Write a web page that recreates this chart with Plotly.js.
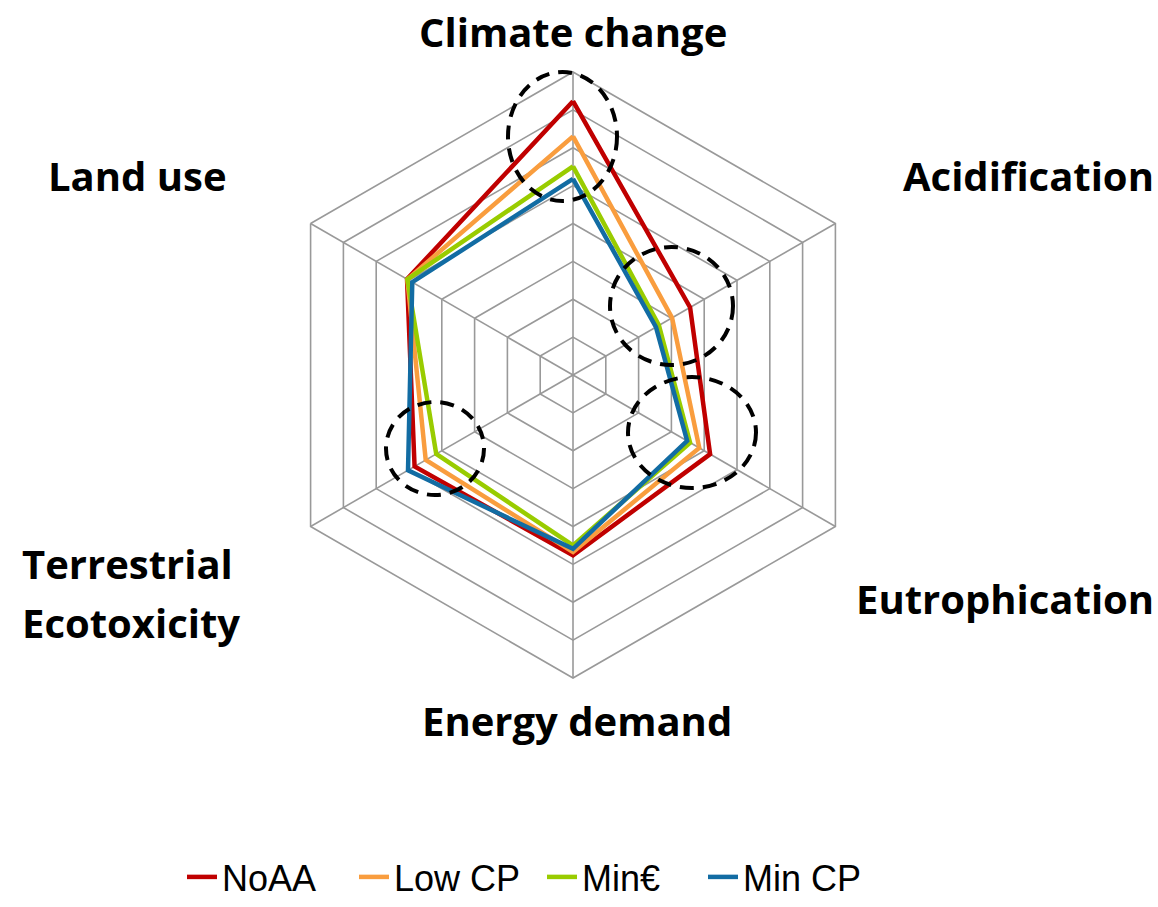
<!DOCTYPE html>
<html>
<head>
<meta charset="utf-8">
<script src="https://cdn.plot.ly/plotly-3.0.1.min.js"></script>
<style>html,body{margin:0;padding:0;background:#fff;}#chart{width:1158px;height:907px;}</style>
</head>
<body>
<div id="chart"></div>
<script>
// Impact categories (clockwise from top)
const categories = ['Climate change', 'Acidification', 'Eutrophication', 'Energy demand', 'Terrestrial Ecotoxicity', 'Land use'];
// Label text as shown around the chart
const categoryLabels = ['Climate change', 'Acidification', 'Eutrophication', 'Energy demand', 'Terrestrial<br>Ecotoxicity', 'Land use'];

// Series values (read in grid-ring units, 0-8)
const seriesNames = ['NoAA', 'Low CP', 'Min€', 'Min CP'];
const noAA  = [7.23, 3.57, 4.18, 4.76, 4.83, 5.06];
const lowCP = [6.30, 3.02, 3.85, 4.67, 4.49, 5.05];
const minEu = [5.51, 2.62, 3.57, 4.50, 4.17, 5.05];
const minCP = [5.18, 2.53, 3.48, 4.59, 5.03, 4.90];

const W = 1158, H = 907;
const colors = ['#C00000', '#F99D3E', '#99CC00', '#126CA3'];
const seriesVals = [noAA, lowCP, minEu, minCP];
const legendIds = ['legend', 'legend2', 'legend3', 'legend4'];
const legendX = [182, 354, 542, 703]; // pixel left of each legend entry (style)

const traces = seriesVals.map((vals, i) => ({
  type: 'scatterpolar',
  mode: 'lines',
  name: seriesNames[i],
  legend: legendIds[i],
  r: vals.concat([vals[0]]),
  theta: categories.concat([categories[0]]),
  line: {color: colors[i], width: 4.5},
  hoverinfo: 'skip'
}));

// label placement (pixel centres), style only
const labelPos = [
  [573, 31, 'center'],
  [1028, 175, 'center'],
  [1005, 598, 'center'],
  [577, 720, 'center'],
  [20, 563, 'left'],
  [137, 175, 'center']
];
const lineGap = 59;
const annotations = [];
categoryLabels.forEach((lab, i) => {
  const lines = lab.split('<br>');
  lines.forEach((ln, j) => {
    const [px, py, al] = labelPos[i];
    annotations.push({
      xref: 'paper', yref: 'paper',
      x: px / W, y: 1 - (py + j * lineGap) / H,
      xanchor: al, yanchor: 'middle',
      text: ln, showarrow: false,
      font: {family: '"Open Sans", Lato, sans-serif', size: 40, color: '#000', weight: 'bold'}
    });
  });
});

// dashed highlight ellipses (pixel boxes)
const ellipses = [
  [508, 72, 617, 201],
  [610, 247, 733, 365],
  [628, 377, 756, 488],
  [386, 402, 484, 495]
];
const shapes = ellipses.map(e => ({
  type: 'circle', xref: 'paper', yref: 'paper',
  x0: e[0] / W, x1: e[2] / W, y0: 1 - e[3] / H, y1: 1 - e[1] / H,
  line: {color: '#000', width: 4, dash: '14px,9px'},
  fillcolor: 'rgba(0,0,0,0)',
  layer: 'above'
}));

const cx = 573, cy = 375, R = 303;
const layout = {
  width: W, height: H,
  margin: {l: 0, r: 0, t: 0, b: 0, autoexpand: false},
  paper_bgcolor: '#fff',
  showlegend: true,
  polar: {
    domain: {x: [(cx - R) / W, (cx + R) / W], y: [1 - (cy + R) / H, 1 - (cy - R) / H]},
    gridshape: 'linear',
    bgcolor: '#fff',
    radialaxis: {
      range: [0, 8], tick0: 0, dtick: 1, showticklabels: false, ticks: '',
      showline: false, gridcolor: '#999999', gridwidth: 1.6
    },
    angularaxis: {
      direction: 'clockwise', rotation: 90, showticklabels: false, ticks: '',
      showline: true, linecolor: '#999999', linewidth: 1.6,
      gridcolor: '#999999', gridwidth: 1.6
    }
  },
  annotations: annotations,
  shapes: shapes
};
legendIds.forEach((id, i) => {
  layout[id] = {
    orientation: 'h', xref: 'container', yref: 'container',
    x: legendX[i] / W, xanchor: 'left', y: 0, yanchor: 'bottom',
    font: {family: '"Liberation Sans", Arial, sans-serif', size: 36, color: '#000'},
    bgcolor: 'rgba(0,0,0,0)', itemwidth: 30
  };
});

Plotly.newPlot('chart', traces, layout, {displayModeBar: false, staticPlot: true});
</script>
</body>
</html>
